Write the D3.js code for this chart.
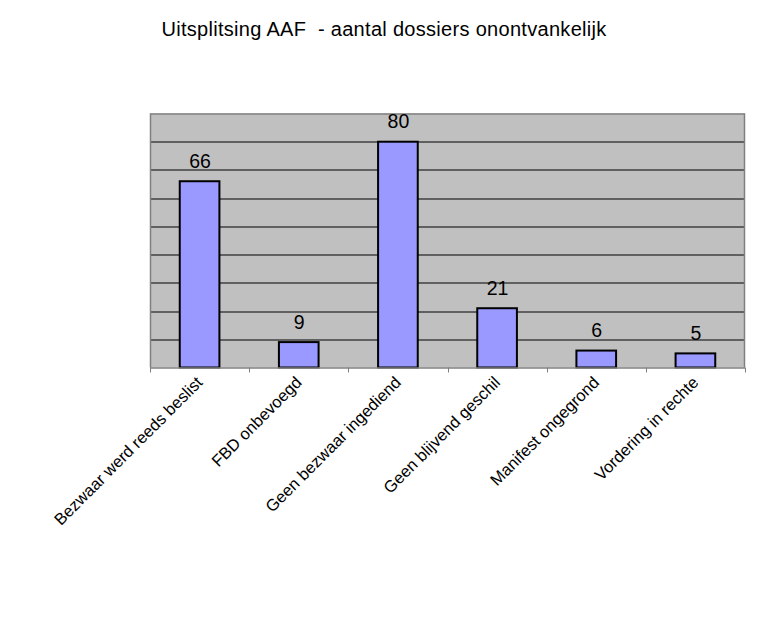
<!DOCTYPE html>
<html><head><meta charset="utf-8">
<script src="https://cdn.jsdelivr.net/npm/d3@7"></script>
<style>body{margin:0;background:#fff;} svg{display:block;font-family:"Liberation Sans",Arial,sans-serif;} text{white-space:pre;}</style>
</head><body>
<script>
const categories = ["Bezwaar werd reeds beslist","FBD onbevoegd","Geen bezwaar ingediend","Geen blijvend geschil","Manifest ongegrond","Vordering in rechte"];
const values = [66, 9, 80, 21, 6, 5];
const yTicks = [0,10,20,30,40,50,60,70,80,90];
const title = "Uitsplitsing AAF  - aantal dossiers onontvankelijk";

const W = 767, H = 617;
const m = {left:150, right:767-745, top:113.5, bottom:617-367.5};
const iw = W - m.left - m.right, ih = H - m.top - m.bottom;

const svg = d3.select("body").append("svg").attr("width", W).attr("height", H);
svg.append("text").attr("x", 384).attr("y", 36).attr("text-anchor","middle")
  .attr("font-size", 20).attr("letter-spacing", 0.3).attr("fill","#000").text(title);

const g = svg.append("g").attr("transform", `translate(${m.left},${m.top})`);
const x = d3.scaleBand().domain(categories).range([0, iw]).paddingInner(0.6).paddingOuter(0.3);
const y = d3.scaleLinear().domain([0, 90]).range([ih, 0]);

g.append("rect").attr("width", iw).attr("height", ih).attr("fill", "#c0c0c0");
g.selectAll(".grid").data(yTicks.filter(t => t > 0 && t < 90)).join("line")
  .attr("x1", 0).attr("x2", iw).attr("y1", d => Math.round(y(d)) + 0.5).attr("y2", d => Math.round(y(d)) + 0.5)
  .attr("stroke", "#000").attr("stroke-width", 1);
g.append("path").attr("d", `M0.5,${ih}V0.5H${iw-0.5}V${ih}`).attr("fill","none").attr("stroke","#808080").attr("stroke-width",1.5);

g.selectAll(".bar").data(values).join("rect")
  .attr("x", (d,i) => x(categories[i])).attr("width", x.bandwidth())
  .attr("y", d => y(d)).attr("height", d => ih - y(d))
  .attr("fill", "#9999ff").attr("stroke", "#000").attr("stroke-width", 2);

g.selectAll(".val").data(values).join("text")
  .attr("x", (d,i) => x(categories[i]) + x.bandwidth()/2 + 0.5).attr("y", d => y(d) - 13.5)
  .attr("text-anchor","middle").attr("font-size", 19.5).attr("fill","#000").text(d => d);

// bottom axis with ticks at category boundaries
const step = iw / categories.length;
g.append("line").attr("x1",0).attr("x2",iw).attr("y1",ih+0.5).attr("y2",ih+0.5).attr("stroke","#808080").attr("stroke-width",1.5);
g.selectAll(".tk").data(d3.range(categories.length+1)).join("line")
  .attr("x1", i => Math.round(i*step)+0.5).attr("x2", i => Math.round(i*step)+0.5)
  .attr("y1", ih).attr("y2", ih+5).attr("stroke","#808080").attr("stroke-width",1);

g.selectAll(".cat").data(categories).join("text")
  .attr("transform", d => `translate(${x(d)+x.bandwidth()/2+4},${ih+16}) rotate(-45)`)
  .attr("text-anchor","end").attr("font-size", 16.5).attr("fill","#000").text(d => d);
</script>
</body></html>
